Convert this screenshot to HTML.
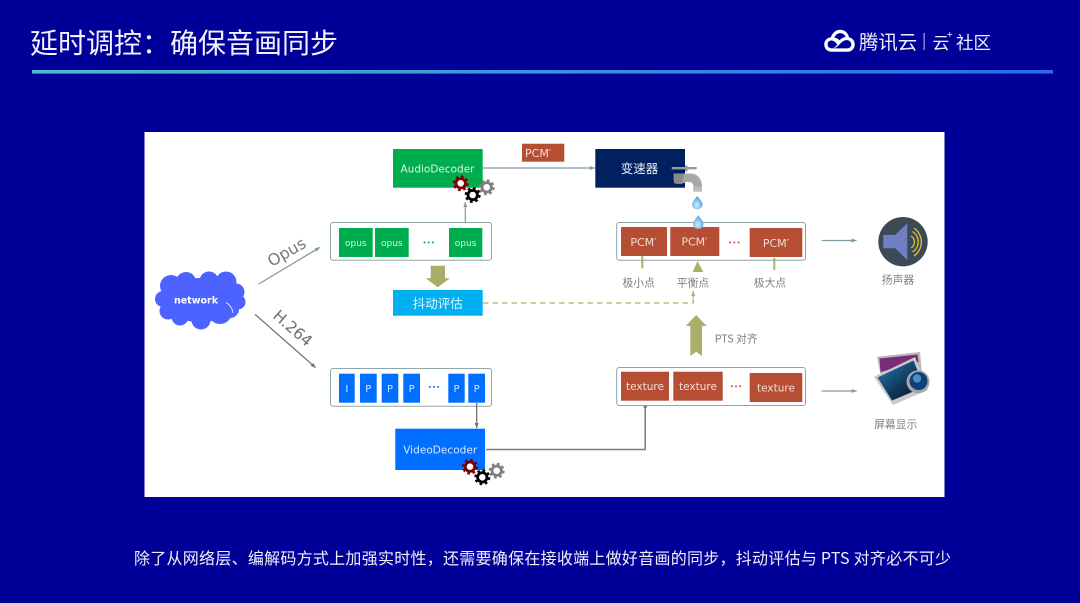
<!DOCTYPE html>
<html lang="zh-CN"><head><meta charset="utf-8"><title>延时调控：确保音画同步</title>
<style>
html,body{margin:0;padding:0;width:1080px;height:603px;overflow:hidden;background:#000099}
svg{display:block}
text{font-family:"Liberation Sans","Noto Sans CJK SC",sans-serif}
.cjk{font-family:"Noto Sans CJK SC",sans-serif}
.dv{font-family:"DejaVu Sans",sans-serif}
.g{fill:#7f7f7f;font-size:10.8px}
.soft{filter:blur(.3px)}
</style></head><body>
<svg width="1080" height="603" viewBox="0 0 1080 603" xmlns="http://www.w3.org/2000/svg">
<defs>
<linearGradient id="bar" x1="0" x2="1" y1="0" y2="0"><stop offset="0" stop-color="#4fbad0"/><stop offset="1" stop-color="#2a6ae8"/></linearGradient>
<radialGradient id="drop" cx=".45" cy=".7" r=".7"><stop offset="0" stop-color="#d5f0ff"/><stop offset="1" stop-color="#3b93dc"/></radialGradient>
<linearGradient id="scr" x1="0" x2="1" y1="0" y2="1"><stop offset="0" stop-color="#2a7fb8"/><stop offset=".55" stop-color="#10395e"/><stop offset="1" stop-color="#050a18"/></linearGradient>
<marker id="a1" markerWidth="6" markerHeight="6" refX="5" refY="2.5" orient="auto" markerUnits="userSpaceOnUse"><path d="M0 .5L5 2.5L0 4.500z" fill="#7f9aa0"/></marker>
<marker id="a2" markerWidth="6" markerHeight="6" refX="5" refY="2.5" orient="auto" markerUnits="userSpaceOnUse"><path d="M0 .5L5 2.5L0 4.500z" fill="#6b6b6b"/></marker>
<marker id="a3" markerWidth="6" markerHeight="6" refX="5" refY="2.5" orient="auto" markerUnits="userSpaceOnUse"><path d="M0 .5L5 2.5L0 4.500z" fill="#a9b06a"/></marker>
<g id="gear"><circle r="6.8" fill="none" stroke="currentColor" stroke-width="2.4" stroke-dasharray="2.67 2.67"/><circle r="4.7" fill="#fff" stroke="currentColor" stroke-width="2.8"/></g>
<path id="dropS" d="M0 -6.8C1.6 -3.8 5.2 -1.6 5.2 2C5.2 4.800 2.9 6.800 0 6.800C-2.9 6.800 -5.2 4.800 -5.2 2C-5.2 -1.6 -1.6 -3.8 0 -6.8z" fill="url(#drop)"/>
</defs>

<rect width="1080" height="603" fill="#000099"/>
<text x="30" y="53" class="cjk soft" font-size="28" fill="#f2f2fa">延时调控：确保音画同步</text>
<rect x="32" y="70" width="1021" height="3.600" fill="url(#bar)"/>

<!-- logo -->
<g class="soft">
<path transform="translate(839.500 41) scale(1.090 1.130) translate(-839.500 -41)" d="M832 50.500C827.500 50.500 825.500 47 825.500 44C825.500 40.800 828 38 831.500 37.800C833 33.500 836.500 31 840 31C844.500 31 847.500 34 848.300 37.800C851.500 38.300 853.500 41 853.500 44C853.500 47.500 851 50.500 847 50.500zM833 47.500C836 47.500 838 45.500 840 43.500C842 41.500 843.800 40 846.500 40.200C849 40.400 850.300 42.200 850.300 44C850.300 46 849 47.500 846.500 47.500zM832.500 47.500C830 47.500 828.600 46 828.600 44C828.600 42 830 40.600 832 40.600C834.500 40.600 836 42.500 837.600 44C836 45.700 834.800 47.500 832.500 47.500zM834.800 38C835.800 35.600 837.800 34 840 34C842.800 34 844.600 35.800 845.200 37.600C843 37.600 841 38.800 839.700 40.300C838.300 39.200 836.800 38.300 834.800 38z" fill="#fff" fill-rule="evenodd"/>
<text x="859" y="49" class="cjk" font-size="19.400" fill="#f0f0fa">腾讯云</text>
<rect x="923.600" y="33" width="1" height="17" fill="#c8c8e8"/>
<text x="932.500" y="49" class="cjk" font-size="16.800" fill="#f0f0fa">云</text>
<text x="947" y="38" class="cjk" font-size="10" fill="#f0f0fa">+</text>
<text x="956" y="49" class="cjk" font-size="17.500" fill="#f0f0fa">社区</text>
</g>

<!-- panel -->
<rect x="144.500" y="132" width="800" height="365" fill="#fff"/>
<g class="soft">

<!-- cloud -->
<g fill="#4d63ff">
<ellipse cx="200" cy="300" rx="37" ry="22"/>
<circle cx="171" cy="286" r="11"/><circle cx="186" cy="282" r="10"/><circle cx="209" cy="281" r="9.500"/><circle cx="226" cy="282" r="10.500"/><circle cx="236" cy="292" r="8.500"/>
<circle cx="238" cy="302" r="7.500"/><circle cx="163" cy="299" r="8"/><circle cx="168" cy="311" r="8.500"/><circle cx="180" cy="317" r="8.500"/><circle cx="201" cy="320" r="9.500"/><circle cx="220" cy="312" r="12"/><circle cx="230" cy="309" r="9"/>
</g>
<path d="M226 302.500C229 304 232.500 308 233 313" fill="none" stroke="#fff" stroke-width=".8"/>
<text x="196" y="303.500" text-anchor="middle" class="dv" font-size="9.500" font-weight="bold" fill="#fff">network</text>

<!-- top-left connectors -->
<line x1="258.700" y1="284" x2="320" y2="247.300" stroke="#7f9aa0" stroke-width="1.200" marker-end="url(#a1)"/>
<text x="286.700" y="257.500" text-anchor="middle" transform="rotate(-30 286.700 252)" class="dv" font-size="16" fill="#7a7a7a">Opus</text>
<line x1="255" y1="314.300" x2="315.700" y2="367.700" stroke="#6b6b6b" stroke-width="1.200" marker-end="url(#a2)"/>
<text x="292.700" y="333.500" text-anchor="middle" transform="rotate(41 292.700 328.300)" class="dv" font-size="15.500" fill="#6e6e6e">H.264</text>

<!-- audio decoder -->
<rect x="393" y="149" width="89.700" height="38.700" fill="#00ad4e"/>
<text x="437.500" y="172.500" text-anchor="middle" class="dv" font-size="10.500" fill="#d8f4e4" textLength="74">AudioDecoder</text>
<line x1="482.700" y1="168" x2="595" y2="168" stroke="#7f9aa0" stroke-width="1.200" marker-end="url(#a1)"/>
<line x1="465.300" y1="228" x2="465.300" y2="202" stroke="#7f9aa0" stroke-width="1.200" marker-end="url(#a1)"/>
<use href="#gear" x="460.700" y="183.300" color="#7f0000"/>
<use href="#gear" x="472.700" y="195" color="#000"/>
<use href="#gear" x="486.700" y="187.300" color="#7f7f7f"/>

<!-- opus queue -->
<rect x="330.500" y="222.500" width="161" height="37.800" rx="2.500" fill="#fff" stroke="#8fa5aa" stroke-width="1"/>
<g fill="#00ad4e"><rect x="339" y="228" width="33.700" height="29"/><rect x="375" y="228" width="33.700" height="29"/><rect x="449" y="228" width="33.300" height="29"/></g>
<g font-size="9" fill="#d8f4e4" text-anchor="middle"><text x="355.800" y="246.200" class="dv">opus</text><text x="391.800" y="246.200" class="dv">opus</text><text x="465.600" y="246.200" class="dv">opus</text></g>
<g fill="#00ad4e"><circle cx="424.500" cy="242.500" r="1"/><circle cx="428.700" cy="242.500" r="1"/><circle cx="432.900" cy="242.500" r="1"/></g>

<path d="M430.700 265.700H445V278.300H450L437.800 287.300L425.700 278.300H430.700z" fill="#a9ad6b"/>

<rect x="393" y="290" width="89.700" height="25.700" fill="#00b0f0"/>
<text x="437.800" y="308" text-anchor="middle" class="cjk" font-size="12.500" fill="#e8f8ff">抖动评估</text>
<path d="M483 303H693.200V295" fill="none" stroke="#a9b06a" stroke-width="1.200" stroke-dasharray="5.500 4"/>
<line x1="693.200" y1="298" x2="693.200" y2="291" stroke="#a9b06a" stroke-width="1.200" marker-end="url(#a3)"/>

<!-- PCM label + speed changer -->
<rect x="522" y="143.700" width="42.300" height="18" fill="#b64e33"/>
<text x="525" y="157" class="dv" font-size="11" fill="#f2ddd6">PCM′</text>
<rect x="595.300" y="149" width="89.700" height="38.700" fill="#002060"/>
<text x="639.500" y="173" text-anchor="middle" class="cjk" font-size="12.500" fill="#e8ecf4">变速器</text>

<!-- faucet -->
<rect x="671.700" y="167" width="25" height="2.400" fill="#9a9a9a"/>
<rect x="685" y="165.500" width="2.500" height="6" fill="#9a9a9a"/>
<path d="M673.500 173.500H690C697 173.500 702 178 702 187H693.500C693.500 183.500 692 182 689 182H686C683 184 677 184.500 674 183z" fill="#a8a8a8"/>
<path d="M673.500 173.500H684L682 184L674 183z" fill="#8a8a8a"/>
<rect x="693.200" y="187" width="8.800" height="4.700" fill="#bcbcbc"/>

<!-- PCM queue -->
<rect x="616.700" y="222.500" width="188.800" height="37.800" rx="2.500" fill="#fff" stroke="#8fa5aa" stroke-width="1"/>
<g fill="#b64e33"><rect x="621" y="227" width="46" height="29"/><rect x="670.300" y="227" width="49" height="29"/><rect x="749.700" y="228" width="52.600" height="29"/></g>
<text x="643.500" y="246" text-anchor="middle" class="dv" font-size="11" fill="#f2ddd6">PCM′</text>
<text x="694.500" y="245.500" text-anchor="middle" class="dv" font-size="11" fill="#f2ddd6">PCM′</text>
<text x="776" y="247" text-anchor="middle" class="dv" font-size="11" fill="#f2ddd6">PCM′</text>
<g fill="#c0503a"><circle cx="730" cy="242.500" r="1"/><circle cx="734.300" cy="242.500" r="1"/><circle cx="738.600" cy="242.500" r="1"/></g>
<use href="#dropS" x="697.300" y="202.500"/>
<use href="#dropS" x="698.300" y="222"/>

<rect x="641.300" y="256" width="2" height="12.300" fill="#a9b06a"/>
<rect x="773.300" y="258" width="2" height="12" fill="#a9b06a"/>
<path d="M697.500 261L703.300 272H692.700z" fill="#a9b06a"/>
<text x="638.700" y="286.500" text-anchor="middle" class="g cjk">极小点</text>
<text x="693" y="286.500" text-anchor="middle" class="g cjk">平衡点</text>
<text x="770" y="286.500" text-anchor="middle" class="g cjk">极大点</text>

<line x1="821.700" y1="240.500" x2="856.500" y2="240.500" stroke="#7f9aa0" stroke-width="1.200" marker-end="url(#a1)"/>

<!-- speaker -->
<circle cx="903" cy="241.700" r="24.700" fill="#3c4a55"/>
<path d="M883.300 235H895L907.300 223.300V260L895 248.300H883.300z" fill="#6f80c2"/>
<g fill="none" stroke="#e3c22f" stroke-width="1.300"><path d="M911 236A7 7 0 0 1 911 248"/><path d="M912.500 231.500A12 12 0 0 1 912.500 252"/><path d="M914 228A17 17 0 0 1 914 256"/></g>
<text x="898" y="283.500" text-anchor="middle" class="g cjk">扬声器</text>

<!-- up arrow -->
<path d="M696.200 315L706.700 326H702V356L696.200 351.700L690.300 356V326H685.700z" fill="#a9b06a"/>
<text x="714.700" y="342.700" class="cjk" font-size="10.800" fill="#7f7f7f">PTS 对齐</text>

<!-- video queue -->
<rect x="330.500" y="368.500" width="161" height="37.800" rx="2.500" fill="#fff" stroke="#8fa5aa" stroke-width="1"/>
<g fill="#006eff"><rect x="339" y="373.700" width="15.700" height="29"/><rect x="360" y="373.700" width="16.700" height="29"/><rect x="381.700" y="373.700" width="16.600" height="29"/><rect x="403.300" y="373.700" width="16.700" height="29"/><rect x="448.300" y="373.700" width="16.400" height="29"/><rect x="468.300" y="373.700" width="16.700" height="29"/></g>
<g font-size="10" fill="#d6e8ff" text-anchor="middle"><text x="346.800" y="392" class="dv">I</text><text x="368.300" y="392" class="dv">P</text><text x="390" y="392" class="dv">P</text><text x="411.700" y="392" class="dv">P</text><text x="456.500" y="392" class="dv">P</text><text x="476.700" y="392" class="dv">P</text></g>
<g fill="#006eff"><circle cx="429.800" cy="386.900" r="1"/><circle cx="434" cy="386.900" r="1"/><circle cx="438.200" cy="386.900" r="1"/></g>
<line x1="476.700" y1="403" x2="476.700" y2="428" stroke="#6b6b6b" stroke-width="1.200" marker-end="url(#a2)"/>

<!-- video decoder -->
<rect x="395.300" y="428.700" width="89.700" height="41.300" fill="#006eff"/>
<text x="440.200" y="453.500" text-anchor="middle" class="dv" font-size="10.500" fill="#d6e8ff" textLength="74">VideoDecoder</text>
<path d="M486 449.500H645.200V402.500" fill="none" stroke="#7a7a7a" stroke-width="1.500" marker-end="url(#a2)"/>
<use href="#gear" x="470" y="466.700" color="#7f0000"/>
<use href="#gear" x="482.300" y="477.300" color="#000"/>
<use href="#gear" x="496.700" y="470.700" color="#7f7f7f"/>

<!-- texture queue -->
<rect x="616.700" y="367.500" width="188.800" height="38" rx="2.500" fill="#fff" stroke="#8fa5aa" stroke-width="1"/>
<g fill="#b64e33"><rect x="621" y="371.700" width="48" height="29"/><rect x="673.300" y="371.700" width="49.400" height="29"/><rect x="749.700" y="373" width="52.600" height="29"/></g>
<g font-size="10.500" fill="#f2ddd6" text-anchor="middle"><text x="645" y="390" class="dv">texture</text><text x="698" y="390" class="dv">texture</text><text x="776" y="391.300" class="dv">texture</text></g>
<g fill="#c0503a"><circle cx="732" cy="386.300" r="1"/><circle cx="736" cy="386.300" r="1"/><circle cx="740" cy="386.300" r="1"/></g>
<line x1="821.700" y1="391" x2="856.700" y2="391" stroke="#7f9aa0" stroke-width="1.200" marker-end="url(#a1)"/>

<!-- image icon -->
<path d="M877 356.700L920 352L923 385L884 392z" fill="#b9b9bd"/>
<path d="M879.500 358.500L917.500 354.500L918.500 362L880.500 372z" fill="#7c2b78"/>
<path d="M874 376.700L915 357L928 390L893 405z" fill="#c9c9cc"/>
<path d="M877.500 377.500L913.500 360.500L924 387L892 400.500z" fill="url(#scr)"/>
<circle cx="918" cy="381.700" r="11.500" fill="#a5a5a9"/>
<circle cx="918.500" cy="381" r="9" fill="#0f3f78"/>
<circle cx="917" cy="378.500" r="4.200" fill="#4c8ec4"/>
<text x="895.700" y="428" text-anchor="middle" class="g cjk">屏幕显示</text>
</g>

<!-- footer -->
<text x="134" y="564" class="cjk soft" font-size="16" fill="#f0f0fa" textLength="817" lengthAdjust="spacing">除了从网络层、编解码方式上加强实时性，还需要确保在接收端上做好音画的同步，抖动评估与 PTS 对齐必不可少</text>
</svg>
</body></html>
